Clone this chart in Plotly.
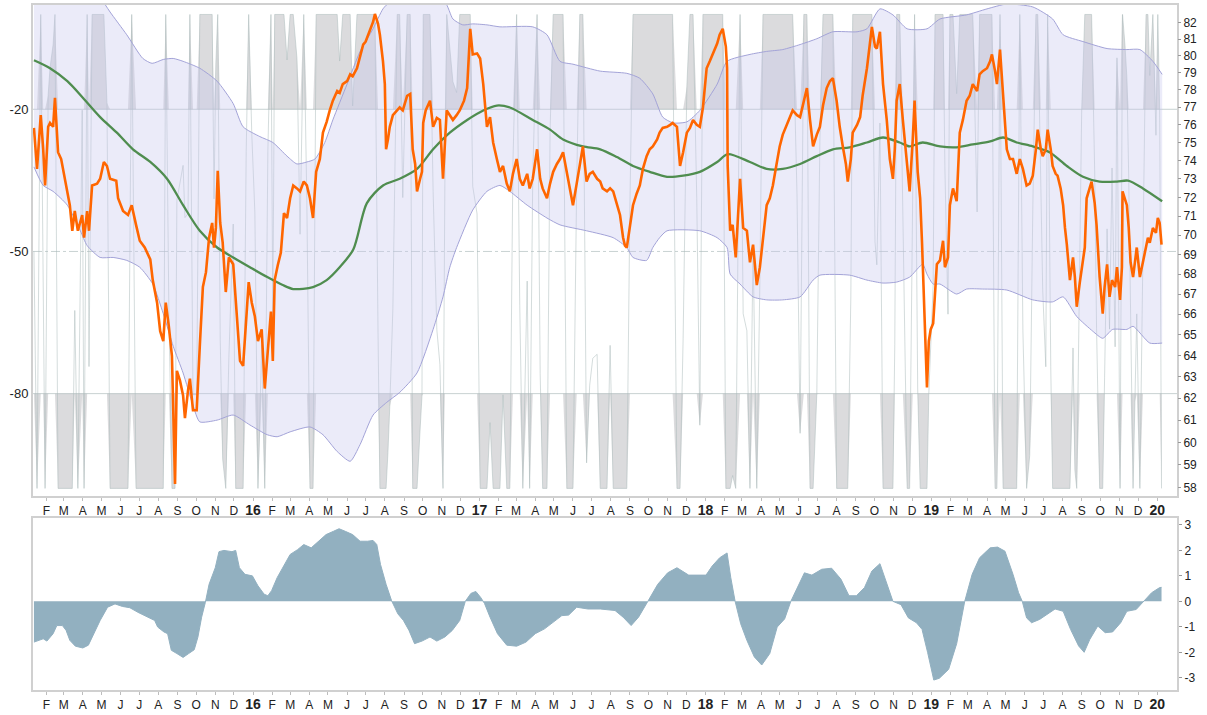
import numpy as np
import pandas as pd
import plotly.graph_objects as go

BASE = pd.Timestamp("2015-01-01")  # day 0 of the day-offset lists below

# ---------------- price (orange) : day offset from 2015-01-01, close ----------------
price_days = [11,16,22,26,29,34,37,42,45,50,55,61,69,73,77,82,89,92,97,100,105,113,118,124,129,134,144,147,155,163,
              169,176,182,190,199,203,210,215,220,224,229,234,239,242,247,252,255,260,263,268,274,279,284,289,294,299,
              302,305,308,312,316,321,326,333,337,344,349,354,358,363,
              368,373,379,384,389,394,397,400,405,410,415,420,425,430,436,441,447,452,457,462,467,473,478,484,489,494,
              501,505,510,517,522,526,533,538,543,547,554,559,562,567,570,575,578,580,583,586,591,598,602,607,614,619,
              623,627,630,635,638,640,644,651,656,662,667,672,675,678,683,688,694,699,706,711,716,720,727,
              732,737,743,748,753,759,764,769,775,780,785,791,796,801,808,812,817,824,829,833,840,845,850,856,861,866,
              872,877,882,888,893,898,904,909,914,921,926,930,937,942,947,953,958,963,966,969,974,979,985,990,995,1001,
              1006,1011,1018,1022,1027,1034,1039,1043,1050,1055,1060,1066,1071,1076,1082,1087,1092,
              1095,1098,1103,1108,1115,1119,1124,1129,1131,1132,1136,1140,1145,1152,1157,1163,1168,1173,1179,1184,
              1189,1195,1200,1205,1211,1216,1221,1228,1232,1237,1244,1249,1255,1260,1265,1270,1276,1281,1286,1292,
              1297,1302,1308,1313,1318,1323,1326,1331,1334,1341,1346,1350,1357,1362,1365,1370,1373,1378,1383,1389,
              1394,1399,1402,1405,1410,1415,1422,1426,1431,1434,1439,1443,1446,1451,1454,1457,
              1460,1464,1467,1470,1475,1480,1483,1488,1491,1496,1502,1507,1512,1518,1523,1528,1535,1539,1544,1551,
              1556,1559,1564,1567,1572,1577,1580,1583,1588,1593,1599,1604,1609,1615,1620,1625,1630,1633,1638,1641,
              1646,1649,1654,1657,1662,1665,1670,1674,1677,1680,1685,1690,1693,1696,1701,1704,1709,1712,1717,1720,
              1725,1728,1733,1738,1741,1745,1749,1753,1758,1761,1766,1769,1770,1774,1777,1780,1783,1787,1790,1793,
              1798,1803,1808,1811,1814,1819,1824,1827,1830,1833]
price_vals = [75.82,73.54,76.54,74.62,72.64,75.88,76.1,75.88,77.54,74.46,74.08,73.0,71.58,70.23,71.27,70.23,71.06,69.87,71.27,70.23,
              72.64,72.74,73.0,73.92,73.7,73.0,72.9,71.95,71.27,71.06,71.58,70.54,69.71,69.36,68.75,67.7,66.57,65.17,64.69,66.57,
              65.41,63.98,58.17,63.28,62.82,62.13,61.09,62.36,62.91,61.45,61.45,64.45,67.35,68.1,69.87,70.64,69.36,70.38,73.43,70.64,
              69.61,67.1,68.85,68.5,66.86,63.75,63.51,65.89,67.6,66.57,
              65.89,64.69,65.26,62.45,64.45,66.13,63.75,67.7,68.45,69.1,71.16,70.9,71.95,72.64,72.48,72.32,72.85,72.64,71.95,70.9,
              73.38,74.08,75.55,76.16,76.81,77.37,77.93,77.82,78.33,78.5,78.9,78.79,79.26,79.96,80.67,80.85,81.62,82.04,82.53,81.92,
              81.26,79.67,78.33,74.62,75.17,75.88,76.54,76.81,76.98,76.81,77.65,77.76,74.62,73.81,72.32,73.0,73.38,76.1,76.81,77.37,
              75.88,76.38,76.27,73.0,75.17,76.81,76.54,76.27,76.54,76.81,77.37,78.1,81.62,80.08,80.14,
              79.84,78.33,75.88,76.43,75.0,74.08,73.38,73.7,72.74,72.32,73.27,74.08,73.0,72.64,73.27,72.48,73.0,74.62,73.0,72.48,
              71.95,72.74,73.38,73.81,74.08,74.46,73.38,72.48,71.58,72.74,73.7,74.78,72.85,73.27,73.38,73.0,72.85,72.48,72.32,72.48,
              72.32,71.69,71.06,69.87,69.46,69.36,70.38,71.58,72.21,72.64,73.54,74.24,74.62,74.78,75.17,75.55,75.82,75.88,75.99,76.1,
              75.88,73.7,74.46,75.55,75.82,76.27,75.99,75.88,76.98,
              77.93,79.26,79.67,80.08,80.73,81.26,81.62,80.55,79.26,73.7,70.23,70.54,68.85,73.0,70.38,70.23,68.6,69.51,67.45,68.35,
              69.87,71.58,71.95,72.64,73.81,74.78,75.44,76.1,76.38,76.81,76.54,76.43,77.37,78.1,76.27,74.78,75.44,75.88,77.09,78.1,
              78.5,78.67,77.37,75.88,74.78,73.81,72.85,74.08,75.55,75.99,76.43,77.65,79.26,80.85,81.74,80.55,80.43,81.44,78.33,76.27,
              74.08,73.0,74.62,77.37,78.33,76.27,73.7,72.32,75.17,77.37,73.38,71.95,69.61,65.41,62.5,64.69,
              65.26,65.55,66.86,68.5,68.7,69.71,68.35,68.85,71.58,72.48,71.79,75.55,76.27,77.37,77.65,78.33,77.93,78.9,79.09,79.26,
              79.67,80.08,79.09,78.33,80.37,77.76,76.27,74.62,74.08,74.08,73.27,74.08,73.54,72.64,72.74,73.17,74.62,75.72,74.62,74.24,
              74.62,75.72,74.62,73.7,73.27,73.17,72.48,71.58,70.38,69.51,67.7,68.85,67.85,66.37,67.6,68.35,69.36,71.95,72.48,72.85,
              71.69,70.54,67.85,66.03,67.35,68.5,66.86,67.7,67.35,68.35,66.71,68.35,72.32,71.95,71.58,70.38,68.6,67.85,68.6,69.36,
              67.85,68.7,69.36,69.87,69.61,70.38,70.12,70.9,70.64,69.51]

# ---------------- moving average (green) ----------------
ma_days = [11,37,65,90,118,145,171,199,226,252,279,307,333,360,388,413,430,462,484,505,527,549,575,602,630,656,683,711,737,759,
           780,817,845,866,898,926,953,979,1006,1034,1060,1087,1115,1132,1168,1195,1221,1249,1276,1302,1329,1357,1383,1410,1426,
           1447,1475,1502,1528,1556,1577,1599,1625,1652,1680,1706,1733,1761,1779,1803,1834]
ma_vals = [79.73,79.26,78.5,77.54,76.43,75.55,74.62,73.92,73.0,71.58,70.23,69.36,68.85,68.35,67.85,67.45,67.25,67.35,67.7,68.35,
           69.26,71.69,72.64,73.0,73.54,74.62,75.55,76.27,76.81,77.09,76.98,76.27,75.72,75.17,74.78,74.62,74.19,73.7,73.38,73.11,
           73.17,73.38,73.92,74.35,73.92,73.54,73.54,73.81,74.24,74.62,74.73,75.0,75.28,75.0,74.78,75.0,74.78,74.73,74.89,75.06,
           75.28,75.0,74.78,74.46,73.7,73.11,72.85,72.85,72.9,72.48,71.79]

# ---------------- bands (lavender) ----------------
upper_days = [11,53,94,118,134,161,187,202,220,236,252,279,307,333,349,376,397,420,436,452,465,481,494,517,538,559,575,586,627,675,
              688,704,720,743,764,817,840,861,882,926,969,990,1011,1027,1044,1066,1087,1115,1131,1168,1195,1221,1249,1276,1302,
              1341,1357,1378,1399,1422,1454,1475,1518,1551,1583,1625,1657,1674,1706,1745,1777,1798,1819,1834]
upper_vals = [88.64,86.7,84.8,83.57,82.65,81.26,79.84,79.55,79.78,79.84,79.67,79.26,78.5,77.2,75.88,75.33,75.0,74.24,73.81,73.92,
              74.08,75.0,76.27,78.33,80.26,81.62,82.84,83.26,83.75,83.26,82.22,81.86,81.92,81.86,81.74,81.74,81.26,79.67,79.5,79.09,
              78.96,78.67,77.76,76.43,76.1,76.16,76.81,78.33,79.67,80.08,80.26,80.37,80.67,81.02,81.44,81.44,81.62,82.84,82.47,81.62,
              81.62,82.22,82.47,82.84,83.14,82.96,82.22,81.26,80.85,80.43,80.37,80.37,79.67,78.9]
lower_days = [11,26,42,65,86,97,118,139,161,182,203,220,236,252,268,279,307,333,360,388,404,425,457,478,501,522,538,559,581,602,
              630,656,672,683,694,720,743,764,780,808,840,861,904,947,969,979,1001,1011,1022,1034,1087,1115,1131,1136,1152,
              1173,1195,1221,1249,1270,1281,1329,1357,1383,1405,1426,1447,1454,1464,1475,1502,1518,1544,1583,1625,1657,1674,
              1696,1722,1738,1754,1777,1787,1814,1834]
lower_vals = [73.65,72.64,72.32,71.58,70.23,69.46,68.85,68.85,68.7,68.35,67.5,66.03,64.45,63.18,61.68,60.92,61.0,61.23,60.78,60.34,
              60.25,60.47,60.69,60.34,59.59,59.16,59.9,61.23,61.81,62.27,63.18,65.26,66.86,68.35,69.36,71.32,72.32,72.64,72.32,71.58,
              70.9,70.54,70.23,69.87,69.36,68.85,68.7,69.36,69.87,70.23,70.23,69.87,69.36,68.0,67.5,66.86,66.71,66.71,66.86,67.7,
              67.95,67.95,67.7,67.55,67.6,67.85,68.5,68.0,67.5,67.5,67.0,67.25,67.25,67.2,66.71,66.61,66.86,65.89,65.17,64.83,
              65.26,65.26,65.41,64.6,64.6]

# ---------------- lower-panel oscillator ----------------
osc_days = [11,26,32,42,48,57,63,69,78,90,99,108,118,130,142,154,166,179,190,200,206,211,221,227,233,242,252,261,270,276,
            282,288,294,304,310,318,331,337,343,352,364,373,383,389,395,404,413,425,437,447,459,471,483,495,504,514,526,538,550,559,
            565,571,580,589,599,608,617,626,638,651,662,675,687,699,708,717,725,733,739,748,760,775,791,806,821,836,851,864,875,888,
            906,926,950,963,976,988,1003,1019,1035,1050,1069,1087,1097,1107,1119,1131,1137,1144,1153,1163,1175,1187,1200,1212,1224,
            1234,1244,1256,1268,1284,1300,1315,1328,1340,1353,1365,1378,1390,1399,1412,1424,1437,1446,1455,1465,1474,1489,1502,1515,
            1527,1539,1556,1568,1580,1593,1602,1608,1615,1623,1636,1652,1661,1674,1686,1699,1708,1717,1730,1742,1754,1767,1777,1792,
            1804,1817,1830,1833]
osc_vals = [-1.6,-1.47,-1.56,-1.27,-0.95,-0.95,-1.14,-1.53,-1.76,-1.83,-1.72,-1.27,-0.75,-0.23,-0.1,-0.2,-0.25,-0.43,-0.56,-0.69,
            -0.75,-1.01,-1.2,-1.27,-1.92,-2.05,-2.2,-2.05,-1.9,-1.4,-0.62,-0.04,0.67,1.32,1.95,2.0,1.95,2.0,1.32,1.06,
            1.0,0.61,0.28,0.22,0.42,0.93,1.32,1.84,2.03,2.23,2.1,2.36,2.62,2.75,2.85,2.75,2.62,2.36,2.36,2.39,
            2.23,1.45,0.67,0.02,-0.49,-0.75,-1.14,-1.66,-1.56,-1.4,-1.56,-1.4,-1.14,-0.75,0.0,0.31,0.39,0.15,-0.08,-0.62,
            -1.27,-1.72,-1.76,-1.6,-1.27,-1.08,-0.82,-0.56,-0.54,-0.23,-0.3,-0.3,-0.36,-0.62,-0.95,-0.62,0.0,0.67,1.12,1.32,
            1.03,1.03,1.03,1.39,1.71,1.9,0.93,0.0,-0.88,-1.53,-2.18,-2.5,-2.05,-1.01,-0.69,0.0,0.54,1.12,1.03,1.26,
            1.3,0.87,0.22,0.22,0.54,1.19,1.48,0.61,0.0,-0.13,-0.65,-0.84,-1.1,-2.0,-3.09,-3.02,-2.67,-1.66,0.0,1.06,
            1.71,2.1,2.13,1.97,1.06,0.34,0.0,-0.65,-0.84,-0.71,-0.45,-0.3,-0.39,-1.1,-1.75,-2.0,-1.5,-0.97,-1.23,-1.2,
            -0.84,-0.39,-0.32,0.0,0.34,0.54,0.55]

# ---------------- axis labels ----------------
month_letters = {2: "F", 3: "M", 4: "A", 5: "M", 6: "J", 7: "J", 8: "A", 9: "S", 10: "O", 11: "N", 12: "D"}
tick_months = pd.date_range("2015-02-01", "2020-01-01", freq="MS")
tick_text = [month_letters[d.month] if d.month != 1 else
             "<span style='font-size:14px'><b>%02d</b></span>" % (d.year % 100) for d in tick_months]
price_ticks = list(range(58, 83))
wr_ticks = [-80, -50, -20]
osc_ticks = [-3, -2, -1, 0, 1, 2, 3]


def to_dates(days):
    return [BASE + pd.Timedelta(days=float(d)) for d in days]


px_dates = to_dates(price_days)
s = pd.Series(price_vals, index=pd.DatetimeIndex(px_dates))
hh = s.rolling("20D").max()
ll = s.rolling("20D").min()
wr = (-100 * (hh - s) / (hh - ll).replace(0, np.nan)).fillna(-50).values
wr_top = np.maximum(wr, -20)
wr_bot = np.minimum(wr, -80)

fig = go.Figure()
common = dict(mode="lines", hoverinfo="skip", showlegend=False)

# %R (base axis, left)
fig.add_trace(go.Scatter(x=px_dates, y=[-20] * len(wr), line=dict(width=0), xaxis="x", yaxis="y", **common))
fig.add_trace(go.Scatter(x=px_dates, y=wr_top, fill="tonexty", fillcolor="rgba(150,150,156,0.34)",
                         line=dict(width=0), xaxis="x", yaxis="y", **common))
fig.add_trace(go.Scatter(x=px_dates, y=[-80] * len(wr), line=dict(width=0), xaxis="x", yaxis="y", **common))
fig.add_trace(go.Scatter(x=px_dates, y=wr_bot, fill="tonexty", fillcolor="rgba(150,150,156,0.34)",
                         line=dict(width=0), xaxis="x", yaxis="y", **common))
fig.add_trace(go.Scatter(x=px_dates, y=wr, line=dict(color="rgba(170,186,186,0.5)", width=1),
                         xaxis="x", yaxis="y", **common))

# price overlay (right, log)
fig.add_trace(go.Scatter(x=to_dates(upper_days), y=upper_vals, line=dict(color="#a3a3d8", width=1, shape="spline", smoothing=0.6),
                         xaxis="x", yaxis="y3", **common))
fig.add_trace(go.Scatter(x=to_dates(lower_days), y=lower_vals, fill="tonexty", fillcolor="rgba(200,200,238,0.36)",
                         line=dict(color="#a3a3d8", width=1, shape="spline", smoothing=0.6),
                         xaxis="x", yaxis="y3", **common))
fig.add_trace(go.Scatter(x=to_dates(ma_days), y=ma_vals, line=dict(color="#4f8d4f", width=2.3, shape="spline", smoothing=0.8),
                         xaxis="x", yaxis="y3", **common))
fig.add_trace(go.Scatter(x=px_dates, y=price_vals, line=dict(color="#ff6600", width=2.6),
                         xaxis="x", yaxis="y3", **common))

# lower panel
fig.add_trace(go.Scatter(x=to_dates(osc_days), y=osc_vals, fill="tozeroy", fillcolor="#92b0c0",
                         line=dict(color="#92b0c0", width=1), xaxis="x2", yaxis="y2", **common))

x_range = [BASE + pd.Timedelta(days=9.5), BASE + pd.Timedelta(days=1858)]
xcommon = dict(type="date", range=x_range, tickmode="array", tickvals=list(tick_months), ticktext=tick_text,
               ticks="outside", ticklen=3, tickcolor="#bdbdbd", showgrid=False, zeroline=False,
               showline=True, linecolor="#d0d0d0", linewidth=2, mirror=True,
               tickfont=dict(size=12, color="#222"))

fig.update_layout(
    width=1207, height=715,
    margin=dict(l=33, r=30, t=3, b=20),
    paper_bgcolor="white", plot_bgcolor="white", showlegend=False,
    font=dict(family="Liberation Sans, Arial, sans-serif", size=12, color="#222"),
    xaxis=dict(domain=[0, 1], anchor="y", **xcommon),
    xaxis2=dict(domain=[0, 1], anchor="y2", matches="x", **xcommon),
    yaxis=dict(domain=[0.2832, 1], anchor="x", range=[-101.6, 2.0], tickmode="array",
               tickvals=wr_ticks, ticktext=[str(v) for v in wr_ticks], ticks="",
               showgrid=False, zeroline=False, showline=True, linecolor="#d0d0d0", linewidth=2, mirror=True,
               tickfont=dict(size=13, color="#222")),
    yaxis3=dict(overlaying="y", anchor="x", side="right", type="log",
                range=[np.log10(57.65), np.log10(83.08)], tickmode="array",
                tickvals=price_ticks, ticktext=[str(v) for v in price_ticks],
                ticks="outside", ticklen=3, tickcolor="#999", showgrid=False, zeroline=False, showline=False,
                tickfont=dict(size=12, color="#222")),
    yaxis2=dict(domain=[0, 0.2514], anchor="x2", side="right", range=[-3.48, 3.28], tickmode="array",
                tickvals=osc_ticks, ticktext=[str(v) for v in osc_ticks], ticks="outside", ticklen=3, tickcolor="#999",
                showgrid=False, zeroline=False, showline=True, linecolor="#d0d0d0", linewidth=2, mirror=True,
                tickfont=dict(size=12, color="#222")),
    shapes=[
        dict(type="line", xref="paper", x0=0, x1=1, yref="y", y0=-20, y1=-20,
             line=dict(color="#c8d2d2", width=1), layer="below"),
        dict(type="line", xref="paper", x0=0, x1=1, yref="y", y0=-80, y1=-80,
             line=dict(color="#c8d2d2", width=1), layer="below"),
        dict(type="line", xref="paper", x0=0, x1=1, yref="y", y0=-50, y1=-50,
             line=dict(color="#c8d2d2", width=1, dash="dashdot"), layer="below"),
    ],
)

fig.write_html("out.html", config={"displayModeBar": False},
               post_script="document.body.style.margin='0';")
